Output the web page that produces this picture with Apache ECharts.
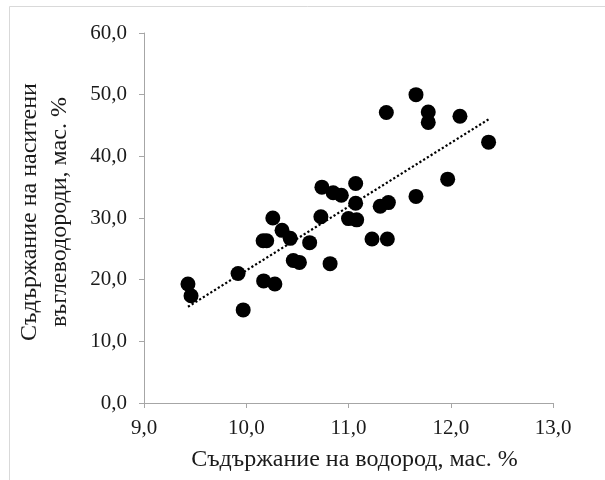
<!DOCTYPE html>
<html>
<head>
<meta charset="utf-8">
<script src="https://cdn.jsdelivr.net/npm/echarts@6/dist/echarts.min.js"></script>
<style>
html,body{margin:0;padding:0;background:#fff;}
#chart{width:605px;height:480px;}
</style>
</head>
<body>
<div id="chart"></div>
<script>
// Hydrogen content, wt. %
const xVals = [9.43, 9.46, 9.92, 9.97, 10.17, 10.28, 10.165, 10.20, 10.26, 10.35,
  10.43, 10.46, 10.52, 10.62, 10.73, 10.74, 10.82, 10.85, 10.93, 11.00,
  11.08, 11.07, 11.07, 11.23, 11.31, 11.39, 11.37, 11.38, 11.66, 11.66,
  11.78, 11.78, 11.97, 12.09, 12.37];
// Saturated hydrocarbons content, wt. %
const yVals = [19.3, 17.4, 21.0, 15.1, 19.8, 19.3, 26.3, 26.3, 30.0, 28.0,
  26.7, 23.1, 22.8, 26.0, 30.2, 35.0, 22.6, 34.1, 33.7, 29.9,
  29.7, 35.6, 32.4, 26.6, 31.9, 32.5, 47.1, 26.6, 50.0, 33.5,
  47.2, 45.5, 36.3, 46.5, 42.3];
// Linear trendline end points
const trendX = [9.43, 12.37];
const trendY = [15.6, 46.0];

const xTitle = 'Съдържание на водород, мас. %';
const yTitle = 'Съдържание на наситени\nвъглеводороди, мас. %';

const points = xVals.map((x, i) => [x, yVals[i]]);
const trend = trendX.map((x, i) => [x, trendY[i]]);

const fmt = v => v.toFixed(1).replace('.', ',');
const font = '"Liberation Serif", "Times New Roman", serif';
const axisColor = '#a6a6a6';
const textColor = '#1a1a1a';

const chart = echarts.init(document.getElementById('chart'), null, {renderer: 'canvas'});
chart.setOption({
  animation: false,
  backgroundColor: '#fff',
  graphic: [{
    type: 'rect',
    shape: {x: 9.5, y: 6.5, width: 700, height: 600},
    style: {fill: 'none', stroke: '#d9d9d9', lineWidth: 1},
    silent: true
  }],
  grid: {left: 144, right: 52, top: 33, bottom: 77, containLabel: false},
  xAxis: {
    type: 'value', min: 9, max: 13, interval: 1,
    name: xTitle, nameLocation: 'middle', nameGap: 45,
    nameTextStyle: {fontFamily: font, fontSize: 24, color: textColor, padding: [0, 0, 0, 12]},
    axisLine: {show: true, lineStyle: {color: axisColor, width: 1}},
    axisTick: {show: true, inside: false, length: 5, lineStyle: {color: axisColor}},
    splitLine: {show: false},
    axisLabel: {formatter: fmt, fontFamily: font, fontSize: 21, color: textColor, margin: 15}
  },
  yAxis: {
    type: 'value', min: 0, max: 60, interval: 10,
    name: yTitle, nameLocation: 'middle', nameGap: 69, nameRotate: 90,
    nameTextStyle: {fontFamily: font, fontSize: 24, color: textColor, lineHeight: 30, align: 'center', padding: [0, 0, 0, 12]},
    axisLine: {show: true, lineStyle: {color: axisColor, width: 1}},
    axisTick: {show: true, inside: false, length: 5, lineStyle: {color: axisColor}},
    splitLine: {show: false},
    axisLabel: {formatter: fmt, fontFamily: font, fontSize: 21, color: textColor, margin: 17}
  },
  series: [{
    type: 'scatter',
    data: points,
    symbol: 'circle',
    symbolSize: 15,
    itemStyle: {color: '#000', opacity: 1},
    z: 2
  }, {
    type: 'line',
    data: trend,
    symbol: 'none',
    lineStyle: {color: '#000', width: 2.2, type: [2.2, 2.2]},
    z: 3
  }]
});
</script>
</body>
</html>
